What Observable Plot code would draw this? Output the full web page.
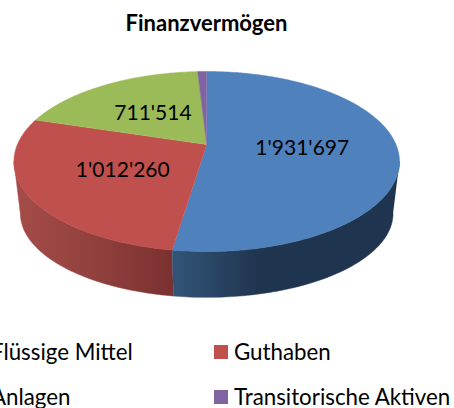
<!DOCTYPE html>
<html><head><meta charset="utf-8">
<script src="https://cdn.jsdelivr.net/npm/d3@7"></script>
<script src="https://cdn.jsdelivr.net/npm/@observablehq/plot@0.6"></script>
<style>
html,body{margin:0;padding:0;background:#fff;width:454px;height:408px;overflow:hidden;font-family:Lato,sans-serif;color:#000}
#title{height:60px;width:413px;padding-top:10px;box-sizing:border-box;text-align:center;font-weight:700;font-size:22px;line-height:26px}
#legend{position:absolute;left:-29px;top:329px;display:grid;grid-template-columns:243px 260px;grid-auto-rows:45px;font-size:22.3px;line-height:20px;white-space:nowrap}
.item{display:flex;align-items:center;gap:6px}
.sw{width:14px;height:14px;flex:none}
svg{display:block}
</style></head><body>
<div id="title">Finanzvermögen</div>
<div id="chart"></div>
<div id="legend"></div>
<script>
const names = ["Flüssige Mittel", "Guthaben", "Anlagen", "Transitorische Aktiven"];
const values = [1931697, 1012260, 711514, 33500];
const colors = ["#4f81bd", "#c0504d", "#9bbb59", "#8064a2"];
const labelled = [true, true, true, false];
const legendOrder = [0, 1, 2, 3];

const total = d3.sum(values);
const starts = d3.cumsum([0, ...values]).map(v => v / total * 360);
const fmt = d3.formatLocale({decimal: ".", thousands: "'", grouping: [3], currency: ["", ""]}).format(",d");

// perspective disc: an angle and radius become a page position
const persp = 0.189, cx = 206.2;
const top3d = {A: 189.3, B: 86.8, y0: 144};
const bot3d = {A: 183, B: 81, y0: 197};
const rad = d => d * Math.PI / 180;
function pt(deg, r, disc) {
  const u = r * Math.sin(rad(deg)), v = r * Math.cos(rad(deg)), w = 1 + persp * v;
  return {x: cx + disc.A * u / w, y: disc.y0 - disc.B * v / w};
}
const arc = (a, b, disc) => {
  const n = Math.max(2, Math.ceil(Math.abs(b - a)));
  return d3.range(n + 1).map(i => pt(a + (b - a) * i / n, 1, disc));
};

const hiddenEdge = Math.acos(-persp) * 180 / Math.PI; // silhouette angle
const wedges = values.map((_, i) => [pt(0, 0, top3d), ...arc(starts[i], starts[i + 1], top3d)]);
const wall = (a, b) => [...arc(a, b, top3d), ...arc(b, a, bot3d)];
const blueWall = wall(hiddenEdge, starts[1]);
const redWall = wall(starts[1], 360 - hiddenEdge);

const labels = values.map((v, i) => ({
  ...pt((starts[i] + starts[i + 1]) / 2, 0.5, top3d), text: fmt(v), show: labelled[i]
})).filter(d => d.show);

const defs = () => {
  const d = d3.create("svg:defs");
  const grad = (id, x1, x2, stops) => {
    const g = d.append("svg:linearGradient").attr("id", id)
      .attr("gradientUnits", "userSpaceOnUse")
      .attr("x1", x1).attr("x2", x2).attr("y1", 0).attr("y2", 0);
    stops.forEach(([o, c]) => g.append("svg:stop").attr("offset", o).attr("stop-color", c));
  };
  grad("wallRed", 13, 172, [[0, "#a64c49"], [0.45, "#94423f"], [1, "#7a3130"]]);
  grad("wallBlue", 172, 262, [[0, "#335479"], [0.5, "#284462"], [1, "#1f344e"]]);
  return d.node();
};

const xy = {x: "x", y: "y"};
const chart = Plot.plot({
  width: 454, height: 260,
  margin: 0,
  x: {domain: [0, 454], range: [0, 454], axis: null},
  y: {domain: [60, 320], range: [0, 260], axis: null},
  marks: [
    defs,
    Plot.line(redWall, {...xy, fill: "url(#wallRed)", stroke: "url(#wallRed)", strokeWidth: 0.5}),
    Plot.line(blueWall, {...xy, fill: "url(#wallBlue)", stroke: "url(#wallBlue)", strokeWidth: 0.5}),
    ...wedges.map((w, i) => Plot.line(w, {...xy, fill: colors[i], stroke: colors[i], strokeWidth: 0.5})),
    Plot.text(labels, {...xy, text: "text", dx: 0.5, dy: 1, fontSize: 21, fontFamily: "Lato, sans-serif", fill: "#000"})
  ]
});
document.getElementById("chart").append(chart);

const lg = d3.select("#legend");
legendOrder.forEach(i => {
  const it = lg.append("div").attr("class", "item");
  it.append("span").attr("class", "sw").style("background", colors[i]);
  it.append("span").text(names[i]);
});
</script>
</body></html>
